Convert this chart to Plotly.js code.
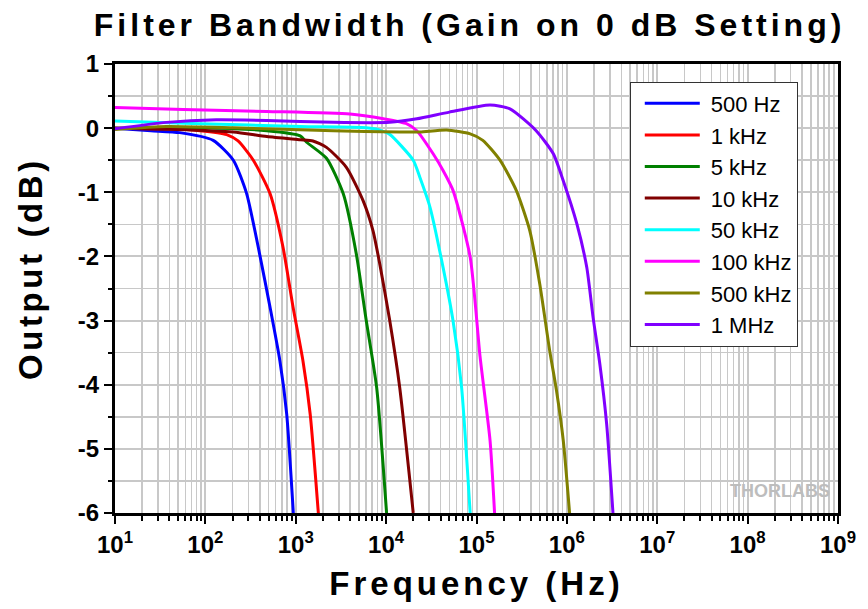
<!DOCTYPE html>
<html><head><meta charset="utf-8">
<script src="https://cdn.plot.ly/plotly-3.0.1.min.js"></script>
<style>html,body{margin:0;padding:0;background:#fff;}</style>
</head><body><div id="chart" style="width:868px;height:609px;"></div>
<script>
// ---- data (frequency in Hz, output in dB) ----
const seriesNames = ["500 Hz","1 kHz","5 kHz","10 kHz","50 kHz","100 kHz","500 kHz","1 MHz"];
const seriesColors = ["#0000FF","#FF0000","#008000","#800000","#00FFFF","#FF00FF","#808000","#8000FF"];

const f500Hz  = [10, 25, 52, 122, 204, 286, 398, 519, 668, 794, 940];
const db500Hz = [0, -0.04, -0.07, -0.19, -0.5, -1.02, -1.96, -2.79, -3.63, -4.46, -6.0];

const f1kHz  = [10, 40, 87, 172, 230, 339, 519, 724, 933, 1202, 1445, 1778];
const db1kHz = [0, -0.01, -0.04, -0.1, -0.2, -0.5, -1.02, -1.86, -2.79, -3.63, -4.46, -6.0];

const f5kHz  = [10, 87, 479, 1122, 1318, 2188, 3350, 4677, 6026, 7852, 10116];
const db5kHz = [0, 0.005, -0.04, -0.12, -0.22, -0.47, -1.02, -1.96, -3.0, -4.04, -6.0];

const f10kHz  = [10, 47, 204, 479, 1122, 1549, 2188, 3631, 5559, 7161, 8511, 10965, 14125, 19953];
const db10kHz = [0, -0.02, -0.06, -0.13, -0.18, -0.2, -0.3, -0.61, -1.13, -1.6, -2.12, -3.0, -4.04, -6.0];

const f50kHz  = [10, 87, 1122, 6026, 8511, 11000, 19953, 23660, 30549, 42658, 54954, 68391, 85114];
const db50kHz = [0.11, 0.07, 0.025, 0.005, -0.03, -0.1, -0.5, -0.77, -1.23, -2.17, -3.0, -4.04, -6.0];

const f100kHz  = [10, 57, 479, 3981, 9333, 16982, 21878, 33113, 42658, 54954, 85114, 109648, 141254, 158489];
const db100kHz = [0.32, 0.29, 0.26, 0.22, 0.145, 0.067, -0.04, -0.4, -0.66, -0.97, -2.01, -3.57, -4.87, -6.0];

const f500kHz  = [10, 37, 204, 2600, 14125, 23660, 46774, 85114, 117490, 181970, 275423, 389045, 501187, 645654, 767361, 912011, 1071519];
const db500kHz = [-0.02, 0.025, 0.005, -0.04, -0.06, -0.06, -0.03, -0.09, -0.19, -0.5, -0.97, -1.6, -2.43, -3.47, -4.09, -4.87, -6.0];

const f1MHz  = [10, 37, 132, 479, 2600, 10965, 21878, 50119, 141254, 234423, 457088, 707946, 912011, 1288250, 1659587, 1949845, 2317395, 2754229, 3235937];
const db1MHz = [-0.01, 0.09, 0.13, 0.12, 0.09, 0.09, 0.145, 0.25, 0.36, 0.3, -0.04, -0.4, -0.82, -1.49, -2.17, -2.95, -3.68, -4.61, -6.0];

const xTickVals = [1e1, 1e2, 1e3, 1e4, 1e5, 1e6, 1e7, 1e8, 1e9];
const xTickText = ["10<sup>1</sup>","10<sup>2</sup>","10<sup>3</sup>","10<sup>4</sup>","10<sup>5</sup>","10<sup>6</sup>","10<sup>7</sup>","10<sup>8</sup>","10<sup>9</sup>"];
const yTickVals = [1, 0, -1, -2, -3, -4, -5, -6];
const yTickText = ["1", "0", "-1", "-2", "-3", "-4", "-5", "-6"];

const chartTitle = 'Filter Bandwidth (Gain on 0 dB Setting)';
const xTitle = 'Frequency (Hz)';
const yTitle = 'Output (dB)';

// ---- build ----
const xs = [f500Hz, f1kHz, f5kHz, f10kHz, f50kHz, f100kHz, f500kHz, f1MHz];
const ys = [db500Hz, db1kHz, db5kHz, db10kHz, db50kHz, db100kHz, db500kHz, db1MHz];

const traces = seriesNames.map((name, i) => ({
  type: 'scatter', mode: 'lines', name: name,
  x: xs[i], y: ys[i],
  line: {color: seriesColors[i], width: 3, shape: 'spline', smoothing: 0.6}
}));

const minorX = [];
for (let d = 1; d < 9; d++) for (let m = 2; m <= 9; m++) minorX.push(m * Math.pow(10, d));

const FONT = '"Liberation Sans", Arial, sans-serif';
const GRID = '#c8c8c8';

const layout = {
  width: 868, height: 609,
  margin: {l: 115, r: 30, t: 64, b: 96},
  paper_bgcolor: '#fff', plot_bgcolor: '#fff',
  showlegend: true,
  title: {
    text: chartTitle,
    font: {family: FONT, size: 32, weight: 700, color: '#000'},
    x: 0.541, xref: 'container', xanchor: 'center',
    y: 0.959, yref: 'container', yanchor: 'middle'
  },
  xaxis: {
    type: 'log', range: [1, 9],
    tickmode: 'array', tickvals: xTickVals, ticktext: xTickText,
    ticks: 'outside', ticklen: 8, tickwidth: 2, tickcolor: '#000',
    showline: true, linewidth: 3, linecolor: '#000', mirror: true,
    showgrid: true, gridcolor: GRID, gridwidth: 2, zeroline: false,
    tickfont: {family: FONT, size: 24, weight: 700, color: '#000'},
    minor: {tickmode: 'array', tickvals: minorX, ticks: 'outside', ticklen: 5, tickwidth: 2, tickcolor: '#000',
            showgrid: true, gridcolor: GRID, gridwidth: 1.5},
    title: {text: xTitle, font: {family: FONT, size: 33, weight: 700, color: '#000'}, standoff: 16}
  },
  yaxis: {
    range: [-6, 1],
    tickmode: 'array', tickvals: yTickVals, ticktext: yTickText,
    ticks: 'outside', ticklen: 8, tickwidth: 2, tickcolor: '#000',
    showline: true, linewidth: 3, linecolor: '#000', mirror: true,
    showgrid: true, gridcolor: GRID, gridwidth: 2, zeroline: false,
    tickfont: {family: FONT, size: 24, weight: 700, color: '#000'},
    minor: {dtick: 0.5, ticks: 'outside', ticklen: 4, tickwidth: 2, tickcolor: '#000',
            showgrid: true, gridcolor: GRID, gridwidth: 1.5}
  },
  legend: {
    x: 0.712, y: 0.961, xanchor: 'left', yanchor: 'top',
    bgcolor: '#fff', bordercolor: '#333', borderwidth: 1,
    font: {family: FONT, size: 22, color: '#000'},
    itemwidth: 70
  },
  annotations: [
    {
      text: yTitle, xref: 'paper', yref: 'paper', x: -0.1176, y: 0.545,
      xanchor: 'center', yanchor: 'middle', textangle: -90, showarrow: false,
      font: {family: FONT, size: 33, weight: 700, color: '#000'}
    },
    {
      text: 'THORLABS', xref: 'paper', yref: 'paper', x: 0.92, y: 0.05,
      xanchor: 'center', yanchor: 'middle', showarrow: false,
      font: {family: FONT, size: 18, weight: 700, color: '#bdbdbd'}
    }
  ]
};

Plotly.newPlot('chart', traces, layout, {staticPlot: true, displayModeBar: false}).then(gd => {
  gd.querySelectorAll('.gtitle, .xtitle').forEach(t => t.style.letterSpacing = '4px');
  const ann = gd.querySelectorAll('.annotation-text');
  if (ann.length) ann[0].style.letterSpacing = '3.6px';
  gd.querySelectorAll('.legendlines path').forEach(p => p.setAttribute('d', 'M14,0h55'));
});
</script></body></html>
